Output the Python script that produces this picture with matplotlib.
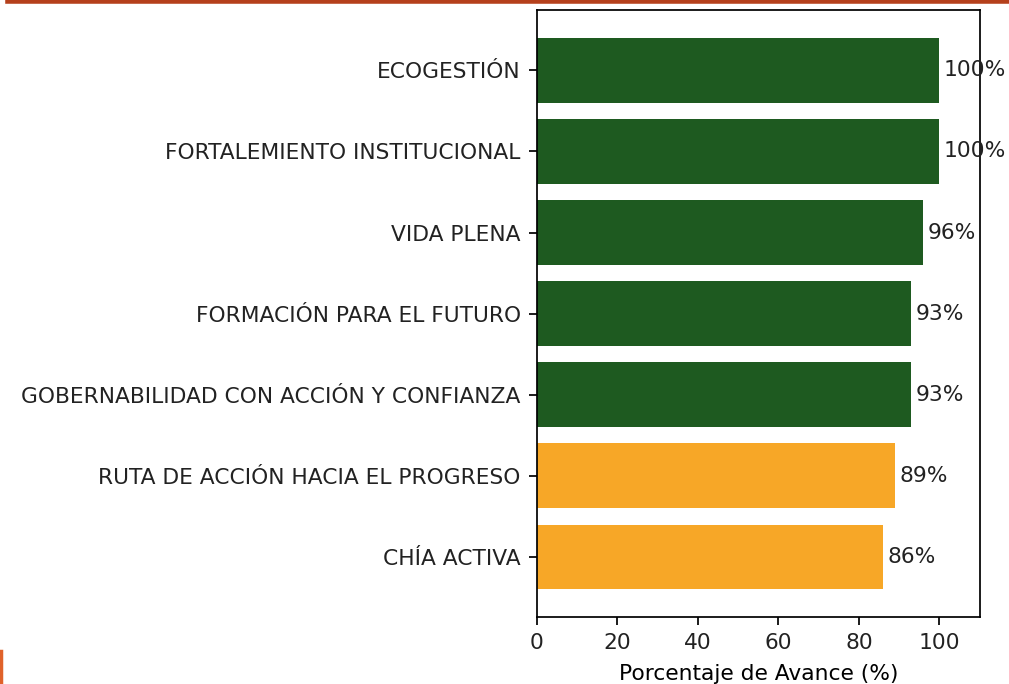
import matplotlib.pyplot as plt
from matplotlib.lines import Line2D

# avance por línea estratégica
lineas = ['CHÍA ACTIVA',
          'RUTA DE ACCIÓN HACIA EL PROGRESO',
          'GOBERNABILIDAD CON ACCIÓN Y CONFIANZA',
          'FORMACIÓN PARA EL FUTURO',
          'VIDA PLENA',
          'FORTALEMIENTO INSTITUCIONAL',
          'ECOGESTIÓN']
avance = [86, 89, 93, 93, 96, 100, 100]

verde = '#1e5a20'
naranja = '#f7a727'
colores = [naranja if v < 90 else verde for v in avance]

plt.rcParams['font.size'] = 15.7
plt.rcParams['axes.linewidth'] = 1.25

fig = plt.figure(figsize=(10.09, 6.84), dpi=100)
ax = fig.add_axes([0.532, 0.098, 0.439, 0.887])

ax.barh(lineas, avance, color=colores, height=0.8)
for i, v in enumerate(avance):
    ax.text(v + 1, i, f'{v}%', va='center', ha='left', color='#222222')

ax.set_xlim(0, 110)
ax.set_xlabel('Porcentaje de Avance (%)', labelpad=8)
ax.tick_params(labelcolor='#222222', length=5.5, width=1.25, pad=6)

# marcas decorativas de la diapositiva
fig.add_artist(Line2D([0.008, 1.0], [0.998, 0.998], color='#b5401c', lw=4,
                      transform=fig.transFigure))
fig.add_artist(Line2D([0.001, 0.001], [0.0, 0.048], color='#e0622a', lw=2.5,
                      transform=fig.transFigure))

fig.savefig('out.png', dpi=100)
